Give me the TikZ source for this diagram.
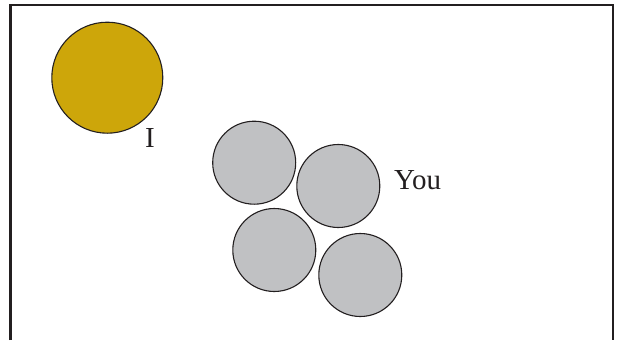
\documentclass[tikz,border=0pt]{standalone}
\usepackage{fontspec}
\setmainfont{Liberation Serif}
\definecolor{gold}{RGB}{205,166,10}
\definecolor{pebble}{RGB}{192,193,195}
\definecolor{ink}{RGB}{35,31,32}
\begin{document}
\begin{tikzpicture}[x=1pt,y=-1pt,
  ball/.style={circle,draw=ink,line width=1.1pt,minimum size=83pt,inner sep=0pt,fill=pebble},
  lbl/.style={font=\fontsize{29}{32}\selectfont,text=ink,inner sep=0pt}]
\useasboundingbox (0,0) rectangle (618,340);
\draw[ink,line width=2.3pt] (10.5,340) -- (10.5,5.3) -- (612.8,5.3) -- (612.8,340);
\node[ball,fill=gold,minimum size=111pt] (me) at (107.3,77.7) {};
\node[lbl,anchor=base] (i) at (150,147) {I};
\node[ball] (c1) at (254.2,162.7) {};
\node[ball] (c2) at (338.3,186) {};
\node[ball] (c3) at (274.3,250) {};
\node[ball] (c4) at (360.3,275) {};
\node[lbl,anchor=base west] (you) at (394,189) {You};
\end{tikzpicture}
\end{document}
